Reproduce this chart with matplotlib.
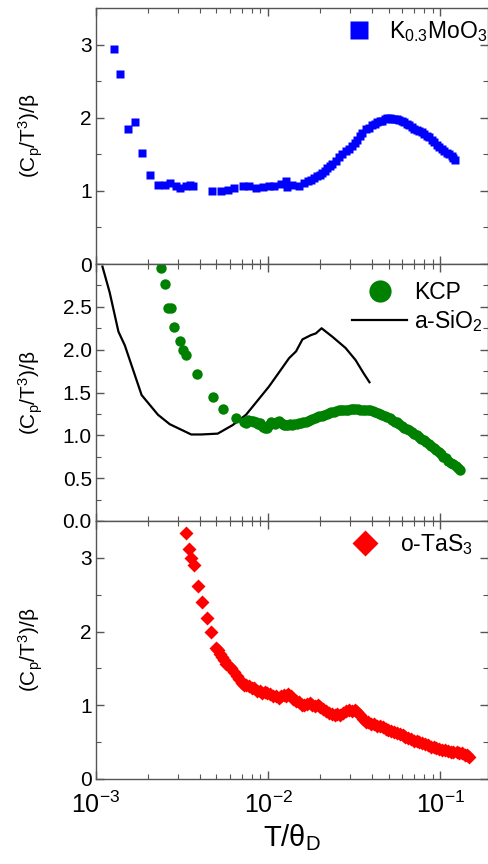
import matplotlib
matplotlib.use("Agg")
import matplotlib.pyplot as plt
from matplotlib.lines import Line2D
from matplotlib.ticker import LogLocator, MultipleLocator, FixedLocator, NullFormatter, FormatStrFormatter

plt.rcParams['font.family'] = ['Liberation Sans', 'DejaVu Sans']
plt.rcParams['mathtext.default'] = 'regular'

# ---- data ----
k_x = [1.27e-3, 1.38e-3, 1.54e-3, 1.68e-3, 1.86e-3, 2.07e-3, 2.29e-3, 2.51e-3, 2.70e-3, 2.93e-3,
       3.09e-3, 3.34e-3, 3.53e-3, 3.68e-3, 4.70e-3, 5.32e-3, 5.82e-3, 6.36e-3, 7.10e-3, 7.76e-3,
       8.49e-3, 9.27e-3, 1.01e-2, 1.08e-2, 1.18e-2, 1.27e-2, 1.29e-2, 1.38e-2, 1.50e-2, 1.61e-2,
       1.70e-2, 1.77e-2, 1.85e-2, 1.93e-2, 2.00e-2, 2.06e-2, 2.13e-2, 2.20e-2, 2.28e-2, 2.36e-2,
       2.46e-2, 2.57e-2, 2.69e-2, 2.81e-2, 2.94e-2, 3.07e-2, 3.17e-2, 3.28e-2, 3.40e-2, 3.51e-2,
       3.67e-2, 3.84e-2, 4.01e-2, 4.15e-2, 4.29e-2, 4.45e-2, 4.58e-2, 4.75e-2, 4.90e-2, 5.07e-2,
       5.24e-2, 5.40e-2, 5.59e-2, 5.78e-2, 5.98e-2, 6.18e-2, 6.38e-2, 6.60e-2, 6.82e-2, 7.05e-2,
       7.29e-2, 7.55e-2, 7.80e-2, 8.05e-2, 8.33e-2, 8.60e-2, 8.90e-2, 9.20e-2, 9.52e-2, 9.85e-2,
       0.102, 0.105, 0.109, 0.112, 0.116, 0.119, 0.122]
k_y = [2.94, 2.60, 1.84, 1.94, 1.52, 1.21, 1.08, 1.08, 1.11, 1.06,
       1.04, 1.07, 1.08, 1.06, 1.00, 1.00, 1.01, 1.04, 1.07, 1.06,
       1.04, 1.05, 1.07, 1.06, 1.10, 1.13, 1.05, 1.08, 1.06, 1.11,
       1.13, 1.15, 1.17, 1.20, 1.22, 1.24, 1.27, 1.31, 1.34, 1.37,
       1.41, 1.46, 1.50, 1.54, 1.57, 1.61, 1.66, 1.70, 1.75, 1.79,
       1.84, 1.86, 1.90, 1.92, 1.94, 1.95, 1.96, 1.98, 2.00, 1.99,
       1.98, 1.98, 1.98, 1.97, 1.96, 1.94, 1.92, 1.90, 1.87, 1.85,
       1.83, 1.82, 1.80, 1.78, 1.75, 1.73, 1.70, 1.67, 1.63, 1.60,
       1.57, 1.55, 1.52, 1.50, 1.47, 1.45, 1.42]

kcp_x = [2.38e-3, 2.51e-3, 2.62e-3, 2.74e-3, 2.84e-3, 3.06e-3, 3.20e-3, 3.34e-3, 3.87e-3, 4.77e-3,
         5.49e-3, 6.50e-3, 7.20e-3, 7.43e-3, 7.65e-3, 7.90e-3, 8.11e-3, 8.30e-3, 8.50e-3, 8.70e-3,
         8.90e-3, 9.10e-3, 9.35e-3, 9.60e-3, 9.85e-3, 1.01e-2, 1.04e-2, 1.06e-2, 1.09e-2, 1.12e-2,
         1.15e-2, 1.18e-2, 1.21e-2, 1.24e-2, 1.27e-2, 1.30e-2, 1.34e-2, 1.38e-2, 1.42e-2, 1.46e-2,
         1.50e-2, 1.55e-2, 1.60e-2, 1.65e-2, 1.70e-2, 1.75e-2, 1.80e-2, 1.86e-2, 1.92e-2, 1.98e-2,
         2.04e-2, 2.11e-2, 2.18e-2, 2.25e-2, 2.32e-2, 2.40e-2, 2.48e-2, 2.56e-2, 2.64e-2, 2.73e-2,
         2.82e-2, 2.91e-2, 3.01e-2, 3.11e-2, 3.21e-2, 3.32e-2, 3.43e-2, 3.54e-2, 3.66e-2, 3.78e-2,
         3.90e-2, 4.03e-2, 4.17e-2, 4.31e-2, 4.45e-2, 4.60e-2, 4.75e-2, 4.91e-2, 5.07e-2, 5.24e-2,
         5.41e-2, 5.59e-2, 5.78e-2, 5.97e-2, 6.17e-2, 6.37e-2, 6.58e-2, 6.80e-2, 7.03e-2, 7.26e-2,
         7.50e-2, 7.75e-2, 8.01e-2, 8.27e-2, 8.55e-2, 8.83e-2, 9.12e-2, 9.43e-2, 9.74e-2, 0.1006,
         0.1040, 0.1074, 0.1110, 0.1147, 0.1185, 0.1224, 0.1265, 0.1300]
kcp_y = [2.95, 2.77, 2.49, 2.49, 2.27, 2.10, 2.00, 1.94, 1.72, 1.45,
         1.31, 1.20, 1.15, 1.14, 1.18, 1.17, 1.17, 1.15, 1.15, 1.13,
         1.14, 1.12, 1.10, 1.08, 1.09, 1.12, 1.15, 1.14, 1.13, 1.16,
         1.17, 1.14, 1.13, 1.12, 1.12, 1.12, 1.13, 1.12, 1.13, 1.13,
         1.14, 1.14, 1.15, 1.16, 1.17, 1.18, 1.19, 1.20, 1.21, 1.22,
         1.23, 1.24, 1.25, 1.26, 1.27, 1.27, 1.28, 1.29, 1.29, 1.30,
         1.30, 1.30, 1.31, 1.31, 1.31, 1.31, 1.30, 1.30, 1.30, 1.29,
         1.29, 1.28, 1.27, 1.26, 1.25, 1.24, 1.23, 1.21, 1.20, 1.18,
         1.16, 1.15, 1.13, 1.11, 1.09, 1.07, 1.06, 1.04, 1.02, 1.00,
         0.98, 0.96, 0.94, 0.92, 0.90, 0.88, 0.85, 0.83, 0.80, 0.78,
         0.75, 0.73, 0.70, 0.68, 0.66, 0.64, 0.62, 0.60]

sio2_x = [1.09e-3, 1.20e-3, 1.35e-3, 1.47e-3, 1.84e-3, 2.29e-3, 2.68e-3, 3.57e-3, 4.08e-3, 5.09e-3,
          6.22e-3, 7.43e-3, 8.87e-3, 1.01e-2, 1.16e-2, 1.32e-2, 1.45e-2, 1.58e-2, 1.77e-2, 1.89e-2,
          2.04e-2, 2.36e-2, 2.81e-2, 3.21e-2, 3.59e-2, 3.87e-2]
sio2_y = [2.97, 2.67, 2.21, 2.05, 1.47, 1.24, 1.13, 1.01, 1.01, 1.02,
          1.12, 1.24, 1.43, 1.57, 1.74, 1.90, 1.98, 2.12, 2.17, 2.19,
          2.25, 2.15, 2.02, 1.88, 1.72, 1.62]

tas_x = [3.31e-3, 3.49e-3, 3.57e-3, 3.70e-3, 3.90e-3, 4.12e-3, 4.40e-3, 4.66e-3, 4.98e-3, 5.10e-3,
         5.25e-3, 5.40e-3, 5.55e-3, 5.69e-3, 5.88e-3, 6.08e-3, 6.30e-3, 6.60e-3, 6.80e-3, 7.00e-3,
         7.20e-3, 7.40e-3, 7.70e-3, 8.00e-3, 8.30e-3, 8.60e-3, 8.90e-3, 9.20e-3, 9.60e-3, 9.90e-3,
         1.03e-2, 1.07e-2, 1.11e-2, 1.15e-2, 1.19e-2, 1.23e-2, 1.27e-2, 1.31e-2, 1.35e-2, 1.40e-2,
         1.45e-2, 1.50e-2, 1.56e-2, 1.62e-2, 1.68e-2, 1.74e-2, 1.80e-2, 1.87e-2, 1.94e-2, 2.01e-2,
         2.09e-2, 2.17e-2, 2.25e-2, 2.34e-2, 2.43e-2, 2.52e-2, 2.62e-2, 2.72e-2, 2.83e-2, 2.94e-2,
         3.05e-2, 3.17e-2, 3.29e-2, 3.41e-2, 3.54e-2, 3.68e-2, 3.82e-2, 3.97e-2, 4.12e-2, 4.28e-2,
         4.45e-2, 4.62e-2, 4.80e-2, 4.98e-2, 5.17e-2, 5.37e-2, 5.58e-2, 5.80e-2, 6.02e-2, 6.25e-2,
         6.49e-2, 6.74e-2, 7.00e-2, 7.27e-2, 7.55e-2, 7.84e-2, 8.15e-2, 8.46e-2, 8.79e-2, 9.13e-2,
         9.48e-2, 9.84e-2, 0.102, 0.106, 0.110, 0.115, 0.119, 0.124, 0.128, 0.133,
         0.138, 0.143, 0.147]
tas_y = [3.34, 3.12, 3.00, 2.90, 2.62, 2.40, 2.19, 2.00, 1.78, 1.75,
         1.70, 1.66, 1.62, 1.56, 1.53, 1.51, 1.45, 1.40, 1.36, 1.30,
         1.28, 1.27, 1.26, 1.24, 1.23, 1.20, 1.19, 1.17, 1.18, 1.16,
         1.15, 1.13, 1.12, 1.10, 1.12, 1.14, 1.12, 1.15, 1.12, 1.08,
         1.06, 1.04, 1.01, 1.00, 1.02, 1.03, 1.01, 0.99, 1.00, 0.98,
         0.95, 0.92, 0.90, 0.88, 0.87, 0.88, 0.87, 0.89, 0.92, 0.93,
         0.92, 0.93, 0.91, 0.87, 0.82, 0.78, 0.77, 0.75, 0.74, 0.72,
         0.72, 0.70, 0.68, 0.67, 0.65, 0.64, 0.62, 0.61, 0.60, 0.57,
         0.55, 0.54, 0.52, 0.51, 0.50, 0.49, 0.47, 0.46, 0.44, 0.43,
         0.42, 0.41, 0.40, 0.39, 0.38, 0.37, 0.36, 0.36, 0.35, 0.35,
         0.33, 0.32, 0.30]

# ---- figure ----
fig = plt.figure(figsize=(4.89, 8.64), dpi=100)
L, R = 96 / 489, 488.5 / 489
tops = [8, 264, 521]
bots = [264, 521, 779]
axes = []
for t, b in zip(tops, bots):
    axes.append(fig.add_axes([L, 1 - b / 864, R - L, (b - t) / 864]))

spine_col = '#555555'
for ax in axes:
    ax.set_xscale('log')
    ax.set_xlim(1e-3, 0.19)
    for s in ax.spines.values():
        s.set_color(spine_col)
        s.set_linewidth(1.0)
    ax.xaxis.set_major_locator(LogLocator(base=10, numticks=10))
    ax.xaxis.set_minor_locator(LogLocator(base=10, subs=range(2, 10), numticks=20))
    ax.tick_params(which='both', direction='in', top=True, right=True, colors=spine_col,
                   labelcolor='black')
    ax.tick_params(which='major', length=6, width=1.0)
    ax.tick_params(which='minor', length=3.5, width=0.8)
    ax.tick_params(axis='y', labelsize=15, pad=3)
    ax.tick_params(axis='x', labelsize=18, pad=9)
    ax.xaxis.set_minor_formatter(NullFormatter())

ylab = r'(C$_{p}$/T$^{3}$)/β'

# top panel
ax = axes[0]
ax.plot(k_x, k_y, 's', color='#0000ff', ms=5.8, mec='none')
ax.set_ylim(0, 3.5)
ax.yaxis.set_major_locator(FixedLocator([0, 1, 2, 3]))
ax.yaxis.set_minor_locator(MultipleLocator(0.5))
ax.tick_params(axis='x', labelbottom=False)
h = [Line2D([], [], ls='none', marker='s', color='#0000ff', ms=13, mec='none')]
ax.legend(h, [r'K$_{0.3}$MoO$_{3}$'], loc='upper right', frameon=False, fontsize=16.5,
          handlelength=1.1, handletextpad=0.75, borderaxespad=0.1, bbox_to_anchor=(1.025, 1.0))

# middle panel
ax = axes[1]
ax.plot(sio2_x, sio2_y, '-', color='black', lw=1.6)
ax.plot(kcp_x, kcp_y, 'o', color='#008000', ms=7.5, mec='none')
ax.set_ylim(0, 3.0)
ax.yaxis.set_major_locator(FixedLocator([0.0, 0.5, 1.0, 1.5, 2.0, 2.5]))
ax.yaxis.set_major_formatter(FormatStrFormatter('%.1f'))
ax.yaxis.set_minor_locator(MultipleLocator(0.25))
ax.tick_params(axis='x', labelbottom=False)
h = [Line2D([], [], ls='none', marker='o', color='#008000', ms=16, mec='none'),
     Line2D([], [], ls='-', color='black', lw=1.6)]
ax.legend(h, ['KCP', r'a-SiO$_{2}$'], loc='upper right', frameon=False, fontsize=16.5,
          handlelength=2.4, handletextpad=0.3, borderaxespad=0.1, labelspacing=0.2,
          bbox_to_anchor=(1.015, 0.98))

# bottom panel
ax = axes[2]
ax.plot(tas_x, tas_y, 'D', color='#ff0000', ms=7.5, mec='none')
ax.set_ylim(0, 3.5)
ax.yaxis.set_major_locator(FixedLocator([0, 1, 2, 3]))
ax.yaxis.set_minor_locator(MultipleLocator(0.5))
h = [Line2D([], [], ls='none', marker='D', color='#ff0000', ms=13, mec='none')]
ax.legend(h, [r'o-TaS$_{3}$'], loc='upper right', frameon=False, fontsize=16.5,
          handlelength=1.1, handletextpad=1.0, borderaxespad=0.1, bbox_to_anchor=(0.99, 1.0))
ax.set_xlabel(r'T/θ$_{D}$', fontsize=21, labelpad=3)

for ax in axes:
    ax.set_ylabel(ylab, fontsize=15)
    ax.yaxis.set_label_coords(-0.13, 0.5)

fig.savefig('out.png', dpi=100)
